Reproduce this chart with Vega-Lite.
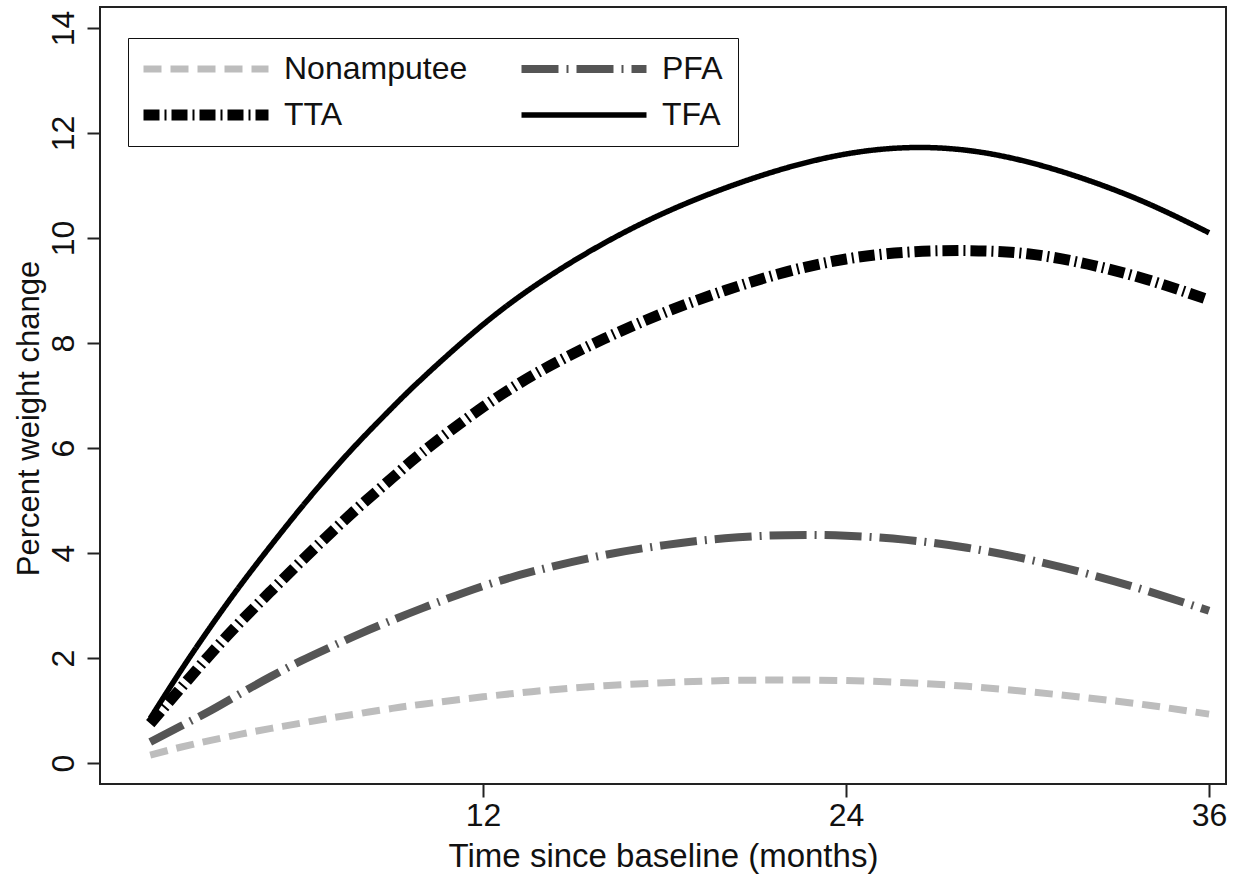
{
  "$schema": "https://vega.github.io/schema/vega-lite/v6.json",
  "width": 1126,
  "height": 777,
  "autosize": "none",
  "padding": {"left": 100, "top": 7, "right": 8, "bottom": 91},
  "background": "white",
  "config": {
    "view": {"stroke": "#222222", "strokeWidth": 2},
    "font": "Liberation Sans",
    "axis": {
      "domain": false,
      "grid": false,
      "tickColor": "#222222",
      "tickWidth": 2,
      "tickSize": 13,
      "labelFont": "Liberation Sans",
      "labelFontSize": 32,
      "labelColor": "#111111",
      "titleFont": "Liberation Sans",
      "titleFontWeight": "normal",
      "titleColor": "#111111"
    },
    "legend": {
      "labelFont": "Liberation Sans",
      "labelFontSize": 32,
      "labelColor": "#111111",
      "labelLimit": 400,
      "symbolType": "stroke",
      "symbolSize": 15625,
      "clipHeight": 32,
      "symbolOffset": -5,
      "labelOffset": 10,
      "columnPadding": 53,
      "rowPadding": 14,
      "padding": 15,
      "strokeColor": "#111111",
      "fillColor": "white",
      "cornerRadius": 0,
      "symbolOpacity": 1
    }
  },
  "data": {
    "values": [
      {"group": "TFA", "month": 1, "pct": 0.85},
      {"group": "TFA", "month": 2, "pct": 1.75},
      {"group": "TFA", "month": 3, "pct": 2.6},
      {"group": "TFA", "month": 4, "pct": 3.4},
      {"group": "TFA", "month": 5, "pct": 4.15},
      {"group": "TFA", "month": 6, "pct": 4.87},
      {"group": "TFA", "month": 7, "pct": 5.55},
      {"group": "TFA", "month": 8, "pct": 6.18},
      {"group": "TFA", "month": 9, "pct": 6.77},
      {"group": "TFA", "month": 10, "pct": 7.33},
      {"group": "TFA", "month": 12, "pct": 8.35},
      {"group": "TFA", "month": 14, "pct": 9.2},
      {"group": "TFA", "month": 16, "pct": 9.9},
      {"group": "TFA", "month": 18, "pct": 10.48},
      {"group": "TFA", "month": 20, "pct": 10.95},
      {"group": "TFA", "month": 22, "pct": 11.33},
      {"group": "TFA", "month": 24, "pct": 11.6},
      {"group": "TFA", "month": 26, "pct": 11.72},
      {"group": "TFA", "month": 28, "pct": 11.67},
      {"group": "TFA", "month": 30, "pct": 11.45},
      {"group": "TFA", "month": 32, "pct": 11.1},
      {"group": "TFA", "month": 34, "pct": 10.65},
      {"group": "TFA", "month": 36, "pct": 10.1},
      {"group": "TTA", "month": 1, "pct": 0.75},
      {"group": "TTA", "month": 2, "pct": 1.42},
      {"group": "TTA", "month": 3, "pct": 2.08},
      {"group": "TTA", "month": 4, "pct": 2.7},
      {"group": "TTA", "month": 5, "pct": 3.28},
      {"group": "TTA", "month": 6, "pct": 3.85},
      {"group": "TTA", "month": 7, "pct": 4.4},
      {"group": "TTA", "month": 8, "pct": 4.93},
      {"group": "TTA", "month": 9, "pct": 5.43},
      {"group": "TTA", "month": 10, "pct": 5.92},
      {"group": "TTA", "month": 12, "pct": 6.78},
      {"group": "TTA", "month": 14, "pct": 7.5},
      {"group": "TTA", "month": 16, "pct": 8.08},
      {"group": "TTA", "month": 18, "pct": 8.58},
      {"group": "TTA", "month": 20, "pct": 9.0},
      {"group": "TTA", "month": 22, "pct": 9.35},
      {"group": "TTA", "month": 24, "pct": 9.6},
      {"group": "TTA", "month": 26, "pct": 9.73},
      {"group": "TTA", "month": 28, "pct": 9.76},
      {"group": "TTA", "month": 30, "pct": 9.7},
      {"group": "TTA", "month": 32, "pct": 9.5},
      {"group": "TTA", "month": 34, "pct": 9.2},
      {"group": "TTA", "month": 36, "pct": 8.82},
      {"group": "PFA", "month": 1, "pct": 0.4},
      {"group": "PFA", "month": 2, "pct": 0.7},
      {"group": "PFA", "month": 3, "pct": 1.0},
      {"group": "PFA", "month": 4, "pct": 1.33},
      {"group": "PFA", "month": 5, "pct": 1.65},
      {"group": "PFA", "month": 6, "pct": 1.95},
      {"group": "PFA", "month": 7, "pct": 2.22},
      {"group": "PFA", "month": 8, "pct": 2.48},
      {"group": "PFA", "month": 9, "pct": 2.72},
      {"group": "PFA", "month": 10, "pct": 2.95},
      {"group": "PFA", "month": 12, "pct": 3.37},
      {"group": "PFA", "month": 14, "pct": 3.7},
      {"group": "PFA", "month": 16, "pct": 3.96},
      {"group": "PFA", "month": 18, "pct": 4.15},
      {"group": "PFA", "month": 20, "pct": 4.28},
      {"group": "PFA", "month": 22, "pct": 4.34},
      {"group": "PFA", "month": 24, "pct": 4.33},
      {"group": "PFA", "month": 26, "pct": 4.25},
      {"group": "PFA", "month": 28, "pct": 4.1},
      {"group": "PFA", "month": 30, "pct": 3.88},
      {"group": "PFA", "month": 32, "pct": 3.6},
      {"group": "PFA", "month": 34, "pct": 3.27},
      {"group": "PFA", "month": 36, "pct": 2.9},
      {"group": "Nonamputee", "month": 1, "pct": 0.15},
      {"group": "Nonamputee", "month": 2, "pct": 0.3},
      {"group": "Nonamputee", "month": 3, "pct": 0.43},
      {"group": "Nonamputee", "month": 4, "pct": 0.55},
      {"group": "Nonamputee", "month": 5, "pct": 0.66},
      {"group": "Nonamputee", "month": 6, "pct": 0.76},
      {"group": "Nonamputee", "month": 7, "pct": 0.86},
      {"group": "Nonamputee", "month": 8, "pct": 0.95},
      {"group": "Nonamputee", "month": 9, "pct": 1.04},
      {"group": "Nonamputee", "month": 10, "pct": 1.12},
      {"group": "Nonamputee", "month": 12, "pct": 1.26},
      {"group": "Nonamputee", "month": 14, "pct": 1.38},
      {"group": "Nonamputee", "month": 16, "pct": 1.47},
      {"group": "Nonamputee", "month": 18, "pct": 1.53},
      {"group": "Nonamputee", "month": 20, "pct": 1.57},
      {"group": "Nonamputee", "month": 22, "pct": 1.58},
      {"group": "Nonamputee", "month": 24, "pct": 1.57},
      {"group": "Nonamputee", "month": 26, "pct": 1.53},
      {"group": "Nonamputee", "month": 28, "pct": 1.46},
      {"group": "Nonamputee", "month": 30, "pct": 1.36},
      {"group": "Nonamputee", "month": 32, "pct": 1.24},
      {"group": "Nonamputee", "month": 34, "pct": 1.1},
      {"group": "Nonamputee", "month": 36, "pct": 0.93}
    ]
  },
  "mark": {"type": "line", "interpolate": "natural"},
  "encoding": {
    "x": {
      "field": "month",
      "type": "quantitative",
      "scale": {"domain": [-0.66, 36.56], "nice": false, "zero": false},
      "axis": {
        "values": [12, 24, 36],
        "title": "Time since baseline (months)",
        "titleFontSize": 33,
        "labelPadding": 3,
        "titlePadding": 9,
        "labelFlush": false
      }
    },
    "y": {
      "field": "pct",
      "type": "quantitative",
      "scale": {"domain": [-0.4, 14.4], "nice": false, "zero": false},
      "axis": {
        "values": [0, 2, 4, 6, 8, 10, 12, 14],
        "title": "Percent weight change",
        "titleFontSize": 31,
        "titleY": 411,
        "titleAlign": "center",
        "labelAngle": 270,
        "labelAlign": "center",
        "labelBaseline": "alphabetic",
        "labelPadding": 14,
        "titlePadding": 2
      }
    },
    "color": {
      "field": "group",
      "type": "nominal",
      "scale": {
        "domain": ["Nonamputee", "TTA", "PFA", "TFA"],
        "range": ["#bdbdbd", "#000000", "#555555", "#000000"]
      },
      "legend": {
        "title": null,
        "orient": "none",
        "legendX": 28,
        "legendY": 31,
        "columns": 2
      }
    },
    "strokeDash": {
      "field": "group",
      "type": "nominal",
      "scale": {
        "domain": ["Nonamputee", "TTA", "PFA", "TFA"],
        "range": [[18, 9], [16, 5, 2, 5], [37, 8, 2, 8], [1, 0]]
      },
      "legend": {
        "title": null,
        "orient": "none",
        "legendX": 28,
        "legendY": 31,
        "columns": 2
      }
    },
    "strokeWidth": {
      "field": "group",
      "type": "nominal",
      "scale": {
        "type": "ordinal",
        "domain": ["Nonamputee", "TTA", "PFA", "TFA"],
        "range": [7, 11, 8, 5.5]
      },
      "legend": {
        "title": null,
        "orient": "none",
        "legendX": 28,
        "legendY": 31,
        "columns": 2
      }
    }
  }
}
